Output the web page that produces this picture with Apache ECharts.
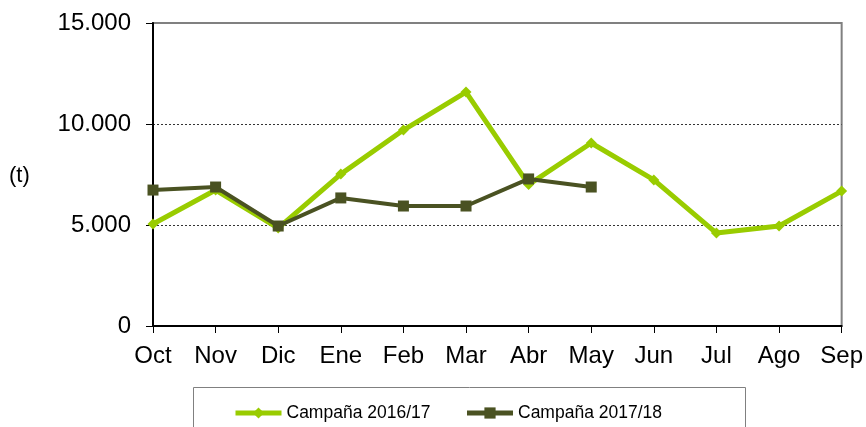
<!DOCTYPE html>
<html>
<head>
<meta charset="utf-8">
<script src="https://cdn.jsdelivr.net/npm/echarts@6/dist/echarts.min.js"></script>
<style>
  html, body { margin: 0; padding: 0; background: #fff; }
  #chart { width: 866px; height: 427px; }
</style>
</head>
<body>
<div id="chart"></div>
<script>
// meses de la campaña
var meses = ["Oct", "Nov", "Dic", "Ene", "Feb", "Mar", "Abr", "May", "Jun", "Jul", "Ago", "Sep"];
// toneladas
var campana1617 = [5050, 6730, 4850, 7520, 9700, 11580, 7000, 9060, 7230, 4600, 4950, 6680];
var campana1718 = [6730, 6880, 4950, 6340, 5940, 5940, 7280, 6880];
var nombres = ["Campaña 2016/17", "Campaña 2017/18"];

var verde = "#99CC00";
var oliva = "#4A5222";

var myChart = echarts.init(document.getElementById("chart"));

var option = {
  animation: false,
  textStyle: { fontFamily: "Liberation Sans, Arial, sans-serif" },
  grid: {
    left: 153,
    right: 24,
    top: 23,
    bottom: 101,
    show: true,
    borderColor: "#808080",
    borderWidth: 2
  },
  graphic: [
    {
      type: "rect",
      left: 193,
      top: 387,
      shape: { width: 552, height: 60 },
      style: { fill: "#fff", stroke: "#808080", lineWidth: 1 }
    },
    {
      type: "text",
      left: 9,
      top: 165,
      style: { text: "(t)", font: "22px Liberation Sans, Arial, sans-serif", fill: "#000" }
    }
  ],
  legend: {
    data: [
      { name: nombres[0], lineStyle: { width: 5 } },
      { name: nombres[1], lineStyle: { width: 5 } }
    ],
    left: 233,
    top: 404,
    padding: 0,
    itemWidth: 46,
    itemHeight: 14,
    itemGap: 34,
    textStyle: { fontSize: 17.5, color: "#000" }
  },
  xAxis: {
    type: "category",
    data: meses,
    boundaryGap: false,
    axisLine: { lineStyle: { color: "#000", width: 2 } },
    axisTick: { show: true, length: 7, interval: 0, lineStyle: { color: "#000" } },
    axisLabel: { fontSize: 24, color: "#000", margin: 18, interval: 0 }
  },
  yAxis: {
    type: "value",
    min: 0,
    max: 15000,
    interval: 5000,
    axisLine: { show: true, lineStyle: { color: "#000", width: 2 } },
    axisTick: { show: true, length: 7, lineStyle: { color: "#000" } },
    axisLabel: {
      fontSize: 24,
      color: "#000",
      margin: 22,
      formatter: function (v) {
        return String(v).replace(/\B(?=(\d{3})+(?!\d))/g, ".");
      }
    },
    splitLine: {
      showMaxLine: false,
      lineStyle: { color: "#333", type: [2, 2], width: 1 }
    }
  },
  series: [
    {
      name: nombres[0],
      type: "line",
      data: campana1617,
      symbol: "diamond",
      symbolSize: 11,
      itemStyle: { color: verde },
      lineStyle: { color: verde, width: 5 }
    },
    {
      name: nombres[1],
      type: "line",
      data: campana1718,
      symbol: "rect",
      symbolSize: 11,
      itemStyle: { color: oliva },
      lineStyle: { color: oliva, width: 4 }
    }
  ]
};

myChart.setOption(option);
</script>
</body>
</html>
